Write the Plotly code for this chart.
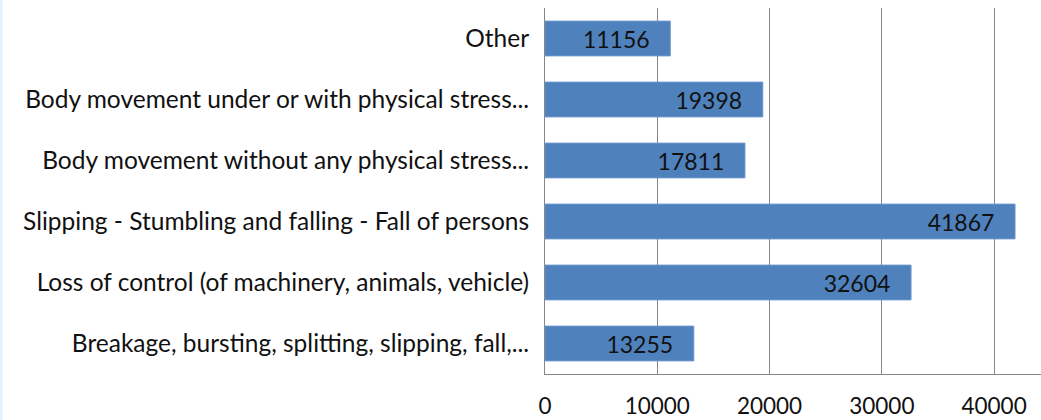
import plotly.graph_objects as go

categories = [
    "Breakage, bursting, splitting, slipping, fall,...",
    "Loss of control (of machinery, animals, vehicle)",
    "Slipping - Stumbling and falling - Fall of persons",
    "Body movement without any physical stress...",
    "Body movement under or with physical stress...",
    "Other",
]
values = [13255, 32604, 41867, 17811, 19398, 11156]
tick_vals = [0, 10000, 20000, 30000, 40000]
tick_text = ["0", "10000", "20000", "30000", "40000"]

FONT = "Lato"

fig = go.Figure(
    go.Bar(
        y=categories,
        x=values,
        orientation="h",
        width=0.57,
        marker=dict(color="#4F81BD", line=dict(color="#6A96CC", width=1)),
        text=[f"{v}\u00a0\u00a0\u00a0" for v in values],
        textposition="inside",
        insidetextanchor="end",
        textfont=dict(family=FONT, size=23, color="#111111"),
        hoverinfo="skip",
    )
)

fig.update_layout(
    width=1041,
    height=420,
    margin=dict(l=545, r=0, t=8, b=46),
    paper_bgcolor="white",
    plot_bgcolor="white",
    showlegend=False,
    font=dict(family=FONT, size=24, color="#111111"),
    xaxis=dict(
        range=[0, 44180],
        tickvals=tick_vals,
        ticktext=tick_text,
        showgrid=True,
        gridcolor="#868686",
        gridwidth=1,
        zeroline=False,
        showline=True,
        linecolor="#868686",
        linewidth=1,
        ticks="",
        ticklabelstandoff=12,
        automargin=False,
        tickfont=dict(family=FONT, size=22.5, color="#111111"),
        fixedrange=True,
    ),
    yaxis=dict(
        categoryorder="array",
        categoryarray=categories,
        showgrid=False,
        zeroline=False,
        showline=True,
        linecolor="#868686",
        linewidth=1,
        ticks="",
        ticklabelstandoff=10,
        automargin=False,
        tickfont=dict(family=FONT, size=24.5, color="#111111"),
        fixedrange=True,
    ),
    shapes=[
        dict(type="line", xref="paper", yref="paper", x0=-544/496, x1=-544/496,
             y0=-46/366, y1=1 + 8/366, line=dict(color="#E6F0F8", width=3))
    ],
)

fig.write_html(
    "out.html",
    config={"displayModeBar": False},
    post_script="document.body.style.margin='0';document.body.style.overflow='hidden';",
)
